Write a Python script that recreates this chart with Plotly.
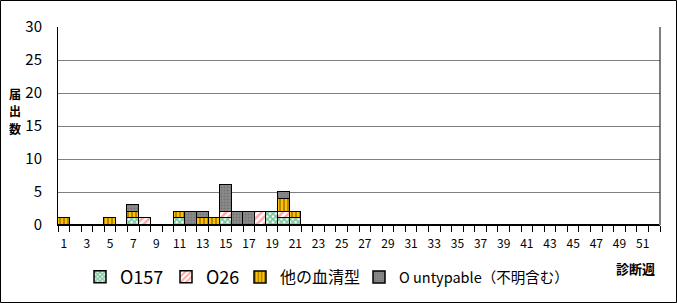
import plotly.graph_objects as go

weeks = list(range(1, 53))
o157 = {7: 1, 11: 1, 15: 1, 19: 2, 20: 1, 21: 1}
o26 = {8: 1, 15: 1, 18: 2, 20: 1}
other = {1: 1, 5: 1, 7: 1, 11: 1, 13: 1, 14: 1, 20: 2, 21: 1}
untyp = {7: 1, 12: 2, 13: 1, 15: 4, 16: 2, 17: 2, 20: 1}

o157_vals = [o157.get(w, 0) for w in weeks]
o26_vals = [o26.get(w, 0) for w in weeks]
other_vals = [other.get(w, 0) for w in weeks]
untyp_vals = [untyp.get(w, 0) for w in weeks]

series_names = ["O157", "O26", "他の血清型", "O untypable（不明含む）"]
xtick_vals = list(range(1, 53, 2))
xtick_text = [str(v) for v in xtick_vals]
ytick_vals = [0, 5, 10, 15, 20, 25, 30]

W, H = 677, 303
ML, MR, MT, MB = 58, 17, 27, 78
PW, PH = W - ML - MR, H - MT - MB

FONT = "Noto Sans CJK JP"


def px_x(p):
    return (p - ML) / PW


def px_y(p):
    return (H - MB - p) / PH


fig = go.Figure()
styles = [
    (18, dict(shape="x", fgcolor="#009040", bgcolor="white", size=4, solidity=0.7), 101),
    (18, dict(shape="/", fgcolor="#ff5050", bgcolor="white", size=5, solidity=0.5), 187),
    (16, dict(shape="|", fgcolor="black", bgcolor="#ffc000", size=4, solidity=0.3), 261),
    (14.5, dict(shape=".", fgcolor="#5a5a5a", bgcolor="#8c8c8c", size=3, solidity=0.4), 380),
]
data = [o157_vals, o26_vals, other_vals, untyp_vals]
legend_layout = {}
for i, (name, vals, (fs, pat, sx)) in enumerate(zip(series_names, data, styles)):
    lg = "legend" if i == 0 else f"legend{i + 1}"
    fig.add_trace(go.Bar(
        x=weeks, y=vals, name=name, legend=lg,
        marker=dict(color=pat["bgcolor"], pattern=pat,
                    line=dict(color="black", width=1.5)),
    ))
    legend_layout[lg] = dict(
        orientation="h", x=px_x(sx - 21), xanchor="left",
        y=px_y(277), yanchor="middle",
        font=dict(size=fs, family=FONT, color="black"),
        bgcolor="rgba(0,0,0,0)", borderwidth=0, itemwidth=30,
    )

fig.update_layout(
    width=W, height=H,
    margin=dict(l=ML, r=MR, t=MT, b=MB, autoexpand=False),
    barmode="stack", bargap=0,
    plot_bgcolor="white", paper_bgcolor="white",
    font=dict(family=FONT, color="black", size=13),
    showlegend=True,
    xaxis=dict(range=[0.5, 52.5], tickvals=xtick_vals, ticktext=xtick_text,
               ticks="", showgrid=False, showline=True, linecolor="black",
               linewidth=1, tickfont=dict(size=12, family=FONT),
               ticklabelstandoff=8, zeroline=False,
               minor=dict(ticks="outside", tick0=0.5, dtick=1, ticklen=6,
                          tickcolor="black", showgrid=False)),
    yaxis=dict(range=[0, 30], tickvals=ytick_vals, showgrid=True,
               gridcolor="#808080", gridwidth=1, showline=True,
               linecolor="black", linewidth=1, ticks="",
               tickfont=dict(size=15, family=FONT), ticklabelstandoff=12,
               zeroline=False),
    **legend_layout,
)

# plot area right border
fig.add_shape(type="line", xref="paper", yref="paper", x0=1, x1=1, y0=0, y1=1,
              line=dict(color="black", width=1))
# outer frame
fig.add_shape(type="rect", xref="paper", yref="paper",
              x0=px_x(0.5), x1=px_x(W - 0.5), y0=px_y(H - 0.5), y1=px_y(0.5),
              line=dict(color="black", width=1))

for ch, yy in zip(["届", "出", "数"], [94, 111, 128]):
    fig.add_annotation(text=f"<b>{ch}</b>", xref="paper", yref="paper",
                       x=px_x(15), y=px_y(yy), showarrow=False,
                       font=dict(size=12, family=FONT),
                       xanchor="center", yanchor="middle", height=15)
fig.add_annotation(text="<b>診断週</b>", xref="paper", yref="paper",
                   x=px_x(635), y=px_y(268), showarrow=False,
                   font=dict(size=13, family=FONT), xanchor="center", yanchor="middle")

fig.write_html("out.html")
